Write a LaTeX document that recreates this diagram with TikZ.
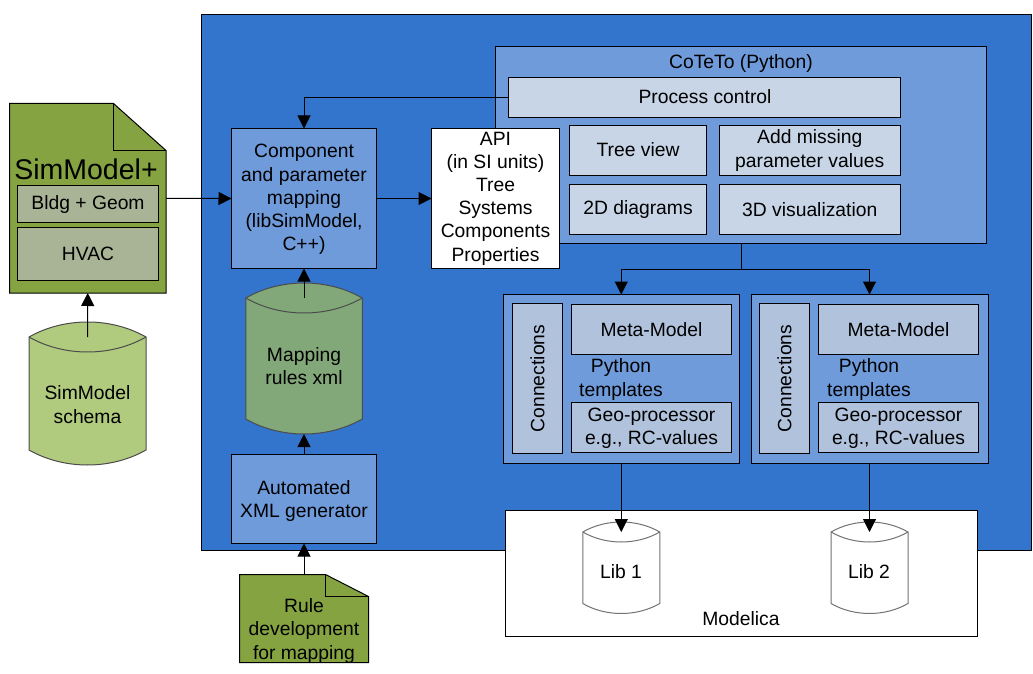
\documentclass[tikz,border=0pt]{standalone}
\usepackage{fontspec}
\setmainfont{Liberation Sans}
\usetikzlibrary{arrows.meta}

\definecolor{mainblue}{HTML}{3374CC}
\definecolor{midblue}{HTML}{6F9BDB}
\definecolor{paleblue}{HTML}{C8D5E7}
\definecolor{greyblue}{HTML}{B0C2DC}
\definecolor{docgreen}{HTML}{85A441}
\definecolor{docgrey}{HTML}{A9B395}
\definecolor{cylgreen}{HTML}{B0CB7D}
\definecolor{mapgreen}{HTML}{82A879}

% \cylnode{name}{x-centre}{y-rim}{width}{height}{bulge}{fill}{edge}
\newcommand{\cylnode}[8]{%
    \node[minimum width=#4 pt, minimum height=#5 pt, inner sep=0pt, outer sep=0pt]
        (#1) at (#2, #3+0.5*#5) {};
    \coordinate (#1-base) at ([yshift=-#6 pt]#1.south);
    \pgfmathsetmacro{\ctl}{1.333*#6}
    \pgfmathsetmacro{\dx}{0.3*#4}
    \draw[fill=#7, draw=#8]
        (#1.north west) .. controls +(\dx,-\ctl) and +(-\dx,-\ctl) .. (#1.north east)
        -- (#1.south east) .. controls +(-\dx,\ctl) and +(\dx,\ctl) .. (#1.south west)
        -- cycle;
    \draw[draw=#8]
        (#1.north west) .. controls +(\dx,\ctl) and +(-\dx,\ctl) .. (#1.north east);
}
% \docnode{name}{x-centre}{y-centre}{width}{height}{fold width}{fold height}
\newcommand{\docnode}[7]{%
    \node[minimum width=#4 pt, minimum height=#5 pt, inner sep=0pt, outer sep=0pt]
        (#1) at (#2, #3) {};
    \draw[fill=docgreen]
        (#1.south west) -- (#1.north west) -- ([xshift=-#6 pt]#1.north east)
        -- ([yshift=-#7 pt]#1.north east) -- (#1.south east) -- cycle;
    \draw ([xshift=-#6 pt]#1.north east) -- ++(0,#7) -- ++(#6,0);
}

\begin{document}
\begin{tikzpicture}[
    x=1pt, y=-1pt,
    block/.style n args={3}{
        draw,
        fill=#1,
        minimum width=#2 pt,
        minimum height=#3 pt,
        inner sep=0pt,
        outer sep=0pt,
        align=center
    },
    link/.style={-{Triangle[width=13pt,length=13pt]}},
    every node/.style={font=\fontsize{19.3}{23.2}\selectfont},
    every path/.style={line width=1pt}
]
\useasboundingbox (0,0) rectangle (1033,674);

% ---- main background ----
\node[block={mainblue}{829.5}{536}] (mainarea) at (616.25, 282.5) {};
\node[block={white}{471.5}{126}] (modelica) at (741.25, 573.5) {};
\node at (741, 619) (modelicalabel) {Modelica};

% ---- SimModel side ----
\docnode{simmodel}{87.75}{198.25}{156.5}{189.5}{52.5}{47}
\node[font=\fontsize{28.5}{32}\selectfont] (simmodeltitle) at (86, 169) {SimModel+};
\node[block={docgrey}{141}{37}] (bldg) at (88, 204) {};
\node (bldglabel) at (88, 204.5) {Bldg + Geom};
\node[block={docgrey}{141}{53}] (hvac) at (88, 254) {HVAC};

\cylnode{schema}{87.5}{337}{117}{113}{15}{cylgreen}{black!70}
\node[align=center] (schemalabel) at (87.5, 404.5) {SimModel\\schema};

% ---- mapping column ----
\node[block={midblue}{145}{140}] (component) at (304, 198.5) {};
\node[align=center] (componentlabel) at (304, 199.5)
    {Component\\and parameter\\mapping\\(libSimModel,\\C++)};

\cylnode{mapping}{304}{298}{116.5}{121}{15}{mapgreen}{black!70}
\node[align=center] (mappinglabel) at (304, 366) {Mapping\\rules xml};

\node[block={midblue}{145}{89}] (generator) at (304, 499) {};
\node[align=center] (generatorlabel) at (304, 501)
    {Automated\\XML generator};

\docnode{ruledoc}{304}{618.5}{129}{88}{43}{22}
\node[align=center] (rulelabel) at (304, 631) {Rule\\development\\for mapping};

% ---- CoTeTo ----
\node[block={midblue}{491}{197}] (coteto) at (741, 145) {};
\node (cototitle) at (741, 64) {CoTeTo (Python)};
\node[block={paleblue}{392}{40}] (process) at (704.5, 97.5) {};
\node (processlabel) at (705, 96.5) {Process control};
\node[block={white}{128}{140}] (api) at (495.5, 198.5) {};
\node[align=center] (apilabel) at (495.5, 198.5)
    {API\\(in SI units)\\Tree\\Systems\\Components\\Properties};
\node[block={paleblue}{137}{50}] (treeview) at (638, 150.5) {};
\node (treeviewlabel) at (638, 149.5) {Tree view};
\node[block={paleblue}{137}{50}] (diagrams) at (638, 209.5) {2D diagrams};
\node[block={paleblue}{181.5}{50}] (missing) at (809.75, 150.5)
    {Add missing\\parameter values};
\node[block={paleblue}{181.5}{50}] (visual) at (809.75, 209.5) {3D visualization};

% ---- template 1 ----
\node[block={midblue}{235.5}{169}] (tmplI) at (621.25, 379) {};
\node[block={greyblue}{50}{150}] (connI) at (537.5, 378.5) {};
\node[rotate=90] (connIlabel) at (connI.center) {Connections};
\node[block={greyblue}{160}{50}] (metaI) at (651.5, 329.5) {Meta-Model};
\node[align=center] (pyI) at (621, 379.5) {Python\\templates};
\node[block={greyblue}{160}{50}] (geoI) at (651.5, 427.5) {};
\node[align=center] (geoIlabel) at (651.5, 428)
    {Geo-processor\\e.g., RC-values};

% ---- template 2 ----
\node[block={midblue}{237}{169}] (tmplII) at (869.5, 379) {};
\node[block={greyblue}{50}{150}] (connII) at (784.5, 378.5) {};
\node[rotate=90] (connIIlabel) at (connII.center) {Connections};
\node[block={greyblue}{160}{50}] (metaII) at (898.5, 329.5) {Meta-Model};
\node[align=center] (pyII) at (869, 379.5) {Python\\templates};
\node[block={greyblue}{160}{50}] (geoII) at (898.5, 427.5) {};
\node[align=center] (geoIIlabel) at (898.5, 428)
    {Geo-processor\\e.g., RC-values};

% ---- libraries ----
\cylnode{libI}{621.25}{532}{77}{71.5}{10}{white}{black!55}
\node (libIlabel) at (621, 572) {Lib 1};
\cylnode{libII}{869.5}{532}{77}{71.5}{10}{white}{black!55}
\node (libIIlabel) at (869, 572) {Lib 2};

% ---- connectors ----
\draw[link] (schema.north) -- (simmodel.south);
\draw[link] (simmodel.east) -- (component.west);
\draw[link] (mapping.north) -- (component.south);
\draw[link] (generator.north) -- (mapping-base);
\draw[link] (ruledoc.north) -- (generator.south);
\draw[link] (component.east) -- (api.west);
\draw[link] (process.west) -| (component.north);
\coordinate (fork) at (741, 269);
\draw (coteto.south) -- (fork);
\draw[link] (fork) -| (tmplI.north);
\draw[link] (fork) -| (tmplII.north);
\draw[link] (tmplI.south) -- (libI.north);
\draw[link] (tmplII.south) -- (libII.north);

\end{tikzpicture}
\end{document}
